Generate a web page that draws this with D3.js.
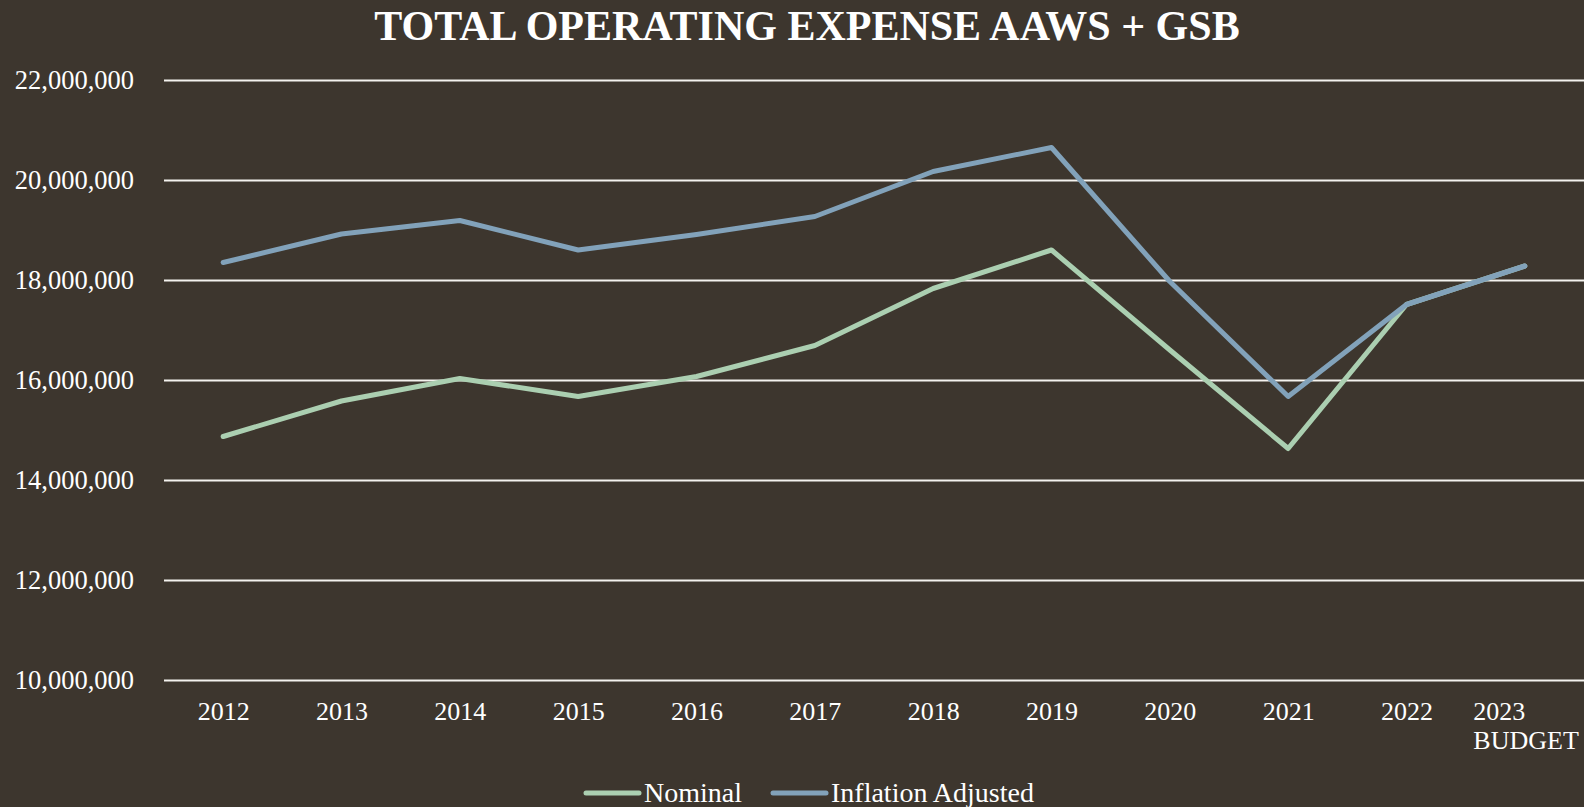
<!DOCTYPE html>
<meta charset="utf-8">
<style>
body { margin: 0; background: #3d362e; }
svg { display: block; }
text { font-family: "Liberation Serif", "Times New Roman", serif; fill: #ffffff; }
.grid line { stroke: #f4f2ee; stroke-width: 2; }
.series { fill: none; stroke-width: 5; stroke-linejoin: round; stroke-linecap: round; }
</style>
<svg width="1584" height="807"></svg>
<script src="https://cdnjs.cloudflare.com/ajax/libs/d3/7.8.5/d3.min.js"></script>
<script>

var years = ["2012", "2013", "2014", "2015", "2016", "2017", "2018", "2019", "2020", "2021", "2022", "2023 BUDGET"];
var nominal = [14870000, 15580000, 16030000, 15670000, 16070000, 16690000, 17830000, 18600000, 16600000, 14630000, 17510000, 18280000];
var inflationAdj = [18350000, 18920000, 19190000, 18600000, 18910000, 19270000, 20170000, 20650000, 17970000, 15670000, 17510000, 18280000];
var yTicks = [10000000, 12000000, 14000000, 16000000, 18000000, 20000000, 22000000];

var svg = d3.select("svg"),
    width = +svg.attr("width"),
    height = +svg.attr("height");

svg.append("rect")
    .attr("width", width)
    .attr("height", height)
    .attr("fill", "#3d362e");

var x = d3.scalePoint()
    .domain(years)
    .range([164, width])
    .padding(0.5);

var y = d3.scaleLinear()
    .domain([10000000, 22000000])
    .range([680, 80]);

// title
svg.append("text")
    .attr("x", 807)
    .attr("y", 40)
    .attr("text-anchor", "middle")
    .style("font-size", "42px")
    .style("font-weight", "bold")
    .text("TOTAL OPERATING EXPENSE AAWS + GSB");

// gridlines + y labels
var yAxis = svg.append("g")
    .attr("class", "grid")
    .attr("transform", "translate(164,0)")
    .call(d3.axisLeft(y)
      .tickValues(yTicks)
      .tickFormat(d3.format(","))
      .tickSize(-(width - 164))
      .tickPadding(30));

yAxis.select(".domain").remove();
yAxis.selectAll("text")
    .style("font-size", "26.5px")
    .attr("fill", "#ffffff");

// x labels
var xAxis = svg.append("g")
    .attr("transform", "translate(0,680)")
    .call(d3.axisBottom(x).tickSize(0).tickFormat(""));

xAxis.select(".domain").remove();

xAxis.selectAll(".tick").each(function(d) {
  var parts = d.split(" ");
  var t = d3.select(this).append("text")
      .style("font-size", "26px")
      .attr("y", 40)
      .attr("text-anchor", parts.length > 1 ? "start" : "middle");
  parts.forEach(function(p, i) {
    t.append("tspan")
      .attr("x", parts.length > 1 ? -52 : 0)
      .attr("dy", i === 0 ? 0 : 29)
      .text(p);
  });
});

// lines
var line = d3.line()
    .x(function(d, i) { return x(years[i]); })
    .y(function(d) { return y(d); });

var series = [
  { name: "Nominal", values: nominal, color: "#abcfb1" },
  { name: "Inflation Adjusted", values: inflationAdj, color: "#82a2ba" }
];

svg.selectAll(".series")
    .data(series)
    .enter().append("path")
    .attr("class", "series")
    .attr("stroke", function(d) { return d.color; })
    .attr("d", function(d) { return line(d.values); });

// legend
var legendX = [586, 773];
var legend = svg.selectAll(".legend")
    .data(series)
    .enter().append("g")
    .attr("class", "legend")
    .attr("transform", function(d, i) { return "translate(" + legendX[i] + ",793)"; });

legend.append("line")
    .attr("x1", 0)
    .attr("x2", 53)
    .attr("stroke", function(d) { return d.color; })
    .attr("stroke-width", 5)
    .attr("stroke-linecap", "round");

legend.append("text")
    .attr("x", 58)
    .attr("y", 9)
    .style("font-size", "28px")
    .text(function(d) { return d.name; });

</script>
